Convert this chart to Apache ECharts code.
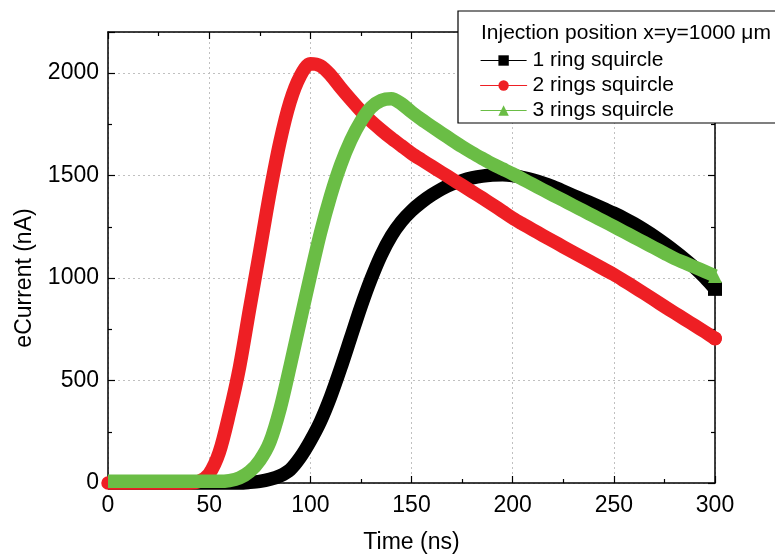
<!DOCTYPE html>
<html>
<head>
<meta charset="utf-8">
<script src="https://cdn.jsdelivr.net/npm/echarts@6/dist/echarts.min.js"></script>
<style>html,body{margin:0;padding:0;background:#fff;}#c{width:775px;height:559px;}</style>
</head>
<body>
<div id="c"></div>
<script>
const time = [0,5,10,15,20,25,30,35,40,45,50,55,60,65,70,75,80,85,90,95,100,105,110,115,120,125,130,135,140,145,150,155,160,165,170,175,180,185,190,195,200,205,210,215,220,225,230,235,240,245,250,255,260,265,270,275,280,285,290,295,300];
const oneRing = [0,0,0,0,0,0,0,0,0,0,0,0,0,0,3,8,18,35,65,125,205,300,420,560,710,860,995,1112,1205,1275,1328,1370,1405,1435,1458,1475,1488,1497,1502,1504,1500,1490,1478,1463,1445,1424,1402,1381,1360,1338,1316,1292,1265,1235,1203,1168,1131,1092,1050,1002,947];
const twoRings = [0,0,0,0,0,0,0,0,0,8,45,150,340,565,850,1130,1415,1665,1860,1985,2045,2035,1990,1928,1870,1815,1765,1722,1682,1645,1608,1576,1545,1514,1483,1452,1421,1390,1358,1325,1292,1263,1235,1207,1180,1152,1125,1098,1071,1044,1017,987,956,925,893,861,830,799,768,737,705];
const threeRings = [8,8,8,8,8,8,8,8,8,8,8,8,12,25,55,110,200,360,570,790,1010,1220,1400,1552,1672,1765,1832,1866,1874,1850,1810,1773,1739,1706,1673,1641,1611,1583,1556,1532,1508,1482,1456,1430,1404,1379,1353,1328,1302,1277,1251,1225,1199,1173,1147,1121,1095,1074,1053,1032,1010];
const seriesNames = ['1 ring squircle','2 rings squircle','3 rings squircle'];
const legendTitle = 'Injection position x=y=1000 μm';
const xName = 'Time (ns)';
const yName = 'eCurrent (nA)';
const yTicks = [0,500,1000,1500,2000];

const font = '"Liberation Sans", Arial, Helvetica, sans-serif';
const colors = ['#000000','#ee1f24','#6abd45'];
const symbols = ['rect','circle','triangle'];
const datasets = [oneRing, twoRings, threeRings];

const chart = echarts.init(document.getElementById('c'), null, {renderer:'canvas'});
const axisCommon = {
  axisLine:{show:true, onZero:false, lineStyle:{color:'#000', width:1.5}},
  axisTick:{show:true, inside:true, length:7, lineStyle:{color:'#000', width:1.2}},
  minorTick:{show:true, splitNumber:2, length:4, lineStyle:{color:'#000', width:1.2}},
};
const option = {
  backgroundColor:'#fff',
  animation:false,
  grid:{left:108, right:60, top:32, bottom:76},
  title:{
    text: legendTitle, left: 481, top: 23, z: 20, padding:0,
    textStyle:{fontFamily:font, fontSize:21, fontWeight:'normal', color:'#000'}
  },
  graphic:[{
    type:'text', x:25, y:278, rotation:Math.PI/2, z:20,
    style:{text:yName, fontFamily:font, fontSize:23, fill:'#000', align:'center', verticalAlign:'middle'}
  }],
  legend:{
    orient:'vertical', left:458, top:11, z:15,
    data: seriesNames,
    backgroundColor:'#fff', borderColor:'#000', borderWidth:1.2, borderRadius:0,
    padding:[39, 140, 2, 22],
    itemWidth:46, itemHeight:13, itemGap:4,
    lineStyle:{width:1.2},
    textStyle:{fontFamily:font, fontSize:21, color:'#000', padding:[0,0,0,1]},
    selectedMode:false
  },
  xAxis:[{
    type:'value', min:0, max:300, interval:50, position:'bottom',
    name:xName, nameLocation:'middle', nameGap:48,
    nameTextStyle:{fontFamily:font, fontSize:23, color:'#000'},
    axisLabel:{fontFamily:font, fontSize:23, color:'#000', margin:11},
    splitLine:{show:true, lineStyle:{color:'#c0c0c0', type:[2,3], width:1}},
    ...axisCommon
  },{
    type:'value', min:0, max:300, interval:50, position:'top',
    axisLabel:{show:false}, splitLine:{show:false},
    ...axisCommon
  }],
  yAxis:[{
    type:'value', min:0, max:2200, interval:500, position:'left',
    axisLabel:{fontFamily:font, fontSize:23, color:'#000', margin:9, showMaxLabel:false,
      formatter: v => yTicks.indexOf(v) >= 0 ? String(v) : ''},
    splitLine:{show:true, lineStyle:{color:'#c0c0c0', type:[2,3], width:1}},
    ...axisCommon
  },{
    type:'value', min:0, max:2200, interval:500, position:'right',
    axisLabel:{show:false}, splitLine:{show:false},
    ...axisCommon
  }],
  series: datasets.map((d, i) => ({
    name: seriesNames[i],
    type:'line',
    xAxisIndex:0, yAxisIndex:0,
    data: time.map((t, k) => [t, d[k]]),
    smooth:0.3,
    symbol: symbols[i],
    symbolSize: (v, p) => (p.dataIndex === time.length - 1 ? 14 : 0),
    showAllSymbol:true,
    color: colors[i],
    itemStyle:{color: colors[i]},
    lineStyle:{color: colors[i], width:13.5, cap: i===1 ? 'round' : 'butt', join:'round'},
    z: 2 + i,
    clip:false
  }))
};
chart.setOption(option);
</script>
</body>
</html>
